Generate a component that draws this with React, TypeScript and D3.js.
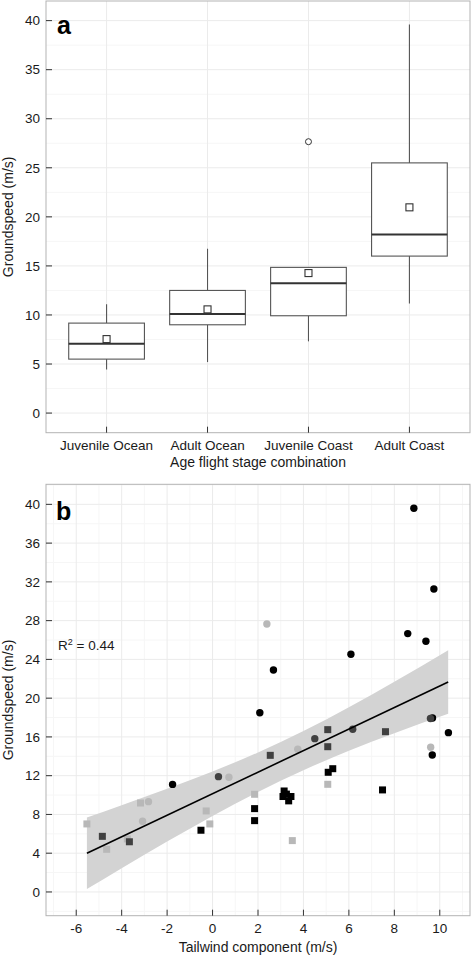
import React from "react";
import * as d3 from "d3";

// ---------- Panel a data (box plots) ----------
const categories = ["Juvenile Ocean", "Adult Ocean", "Juvenile Coast", "Adult Coast"];
const whiskerLow = [4.45, 5.2, 7.31, 11.18];
const q1 = [5.5, 9.0, 9.92, 16.0];
const median = [7.06, 10.09, 13.22, 18.2];
const q3 = [9.17, 12.5, 14.85, 25.5];
const whiskerHigh = [11.08, 16.75, 14.85, 39.6];
const means = [7.54, 10.57, 14.27, 20.97];
const outliers: [number, number][] = [[2, 27.66]]; // [category index, value]
const yTicksA = [0, 5, 10, 15, 20, 25, 30, 35, 40];
const yMinorA = [2.5, 7.5, 12.5, 17.5, 22.5, 27.5, 32.5, 37.5];

// ---------- Panel b data (scatter) ----------
const blackCircles: [number, number][] = [
  [8.86, 39.6], [9.74, 31.27], [8.59, 26.66], [9.39, 25.87], [6.09, 24.53],
  [2.68, 22.91], [2.08, 18.5], [9.68, 17.95], [10.38, 16.44], [9.67, 14.14], [-1.76, 11.1],
];
const lightCircles: [number, number][] = [
  [2.39, 27.66], [9.6, 14.93], [3.75, 14.72], [0.72, 11.84], [-2.82, 9.32], [-3.08, 7.3],
];
const darkCircles: [number, number][] = [
  [9.59, 17.9], [6.17, 16.79], [4.5, 15.82], [0.26, 11.9],
];
const blackSquares: [number, number][] = [
  [5.09, 12.35], [5.29, 12.72], [7.48, 10.53], [3.15, 10.42], [3.25, 10.1], [3.1, 9.85],
  [3.45, 9.85], [3.35, 9.4], [1.85, 8.6], [1.85, 7.36], [-0.51, 6.37],
];
const lightSquares: [number, number][] = [
  [5.07, 11.11], [1.85, 10.08], [-0.28, 8.36], [-0.12, 7.02], [3.51, 5.3],
  [-3.17, 9.18], [-5.53, 7.02], [-4.66, 4.4], [-3.75, 5.47],
];
const darkSquares: [number, number][] = [
  [7.61, 16.54], [5.07, 16.75], [5.07, 14.99], [2.54, 14.1], [-4.85, 5.74], [-3.66, 5.18],
];
// fitted line end points and confidence band
const fitLine: [number, number][] = [[-5.53, 4.0], [10.37, 21.66]];
const bandX = [-5.53, -4, -2, 0, 2, 4, 6, 8, 10.37];
const bandLow = [0.3, 2.45, 5.2, 7.85, 10.32, 12.56, 14.56, 16.37, 18.38];
const bandHigh = [7.69, 8.95, 10.64, 12.43, 14.4, 16.6, 19.06, 21.69, 24.94];
const xTicksB = [-6, -4, -2, 0, 2, 4, 6, 8, 10];
const xMinorB = [-7, -5, -3, -1, 1, 3, 5, 7, 9, 11];
const yTicksB = [0, 4, 8, 12, 16, 20, 24, 28, 32, 36, 40];
const yMinorB = [-2, 2, 6, 10, 14, 18, 22, 26, 30, 34, 38, 42];

const FONT = "'Liberation Sans', Arial, Helvetica, sans-serif";
const GRID_MAJOR = "#ebebeb";
const GRID_MINOR = "#f6f6f6";
const BORDER = "#b3b3b3";
const TICK = "#333333";
const TXT = "#1a1a1a";

const L = 46, R = 470;

function PanelA() {
  const top = 1, bottom = 432.7;
  const x = d3.scalePoint<string>().domain(categories).range([L, R]).padding(0.6);
  const y = d3.scaleLinear().domain([-2, 42]).range([bottom, top]);
  const step = x.step();
  const bw = step * 0.75;
  return (
    <g>
      <rect x={L} y={top} width={R - L} height={bottom - top} fill="#fff" />
      {yMinorA.map((v) => (
        <line key={"mn" + v} x1={L} x2={R} y1={y(v)} y2={y(v)} stroke={GRID_MINOR} strokeWidth={1} />
      ))}
      {yTicksA.map((v) => (
        <line key={"mj" + v} x1={L} x2={R} y1={y(v)} y2={y(v)} stroke={GRID_MAJOR} strokeWidth={1} />
      ))}
      {categories.map((c) => (
        <line key={"vg" + c} x1={x(c)} x2={x(c)} y1={top} y2={bottom} stroke={GRID_MAJOR} strokeWidth={1} />
      ))}
      {categories.map((c, i) => {
        const cx = x(c) as number;
        return (
          <g key={"box" + c}>
            <line x1={cx} x2={cx} y1={y(whiskerHigh[i])} y2={y(q3[i])} stroke="#555" strokeWidth={1.1} />
            <line x1={cx} x2={cx} y1={y(q1[i])} y2={y(whiskerLow[i])} stroke="#555" strokeWidth={1.1} />
            <rect x={cx - bw / 2} y={y(q3[i])} width={bw} height={y(q1[i]) - y(q3[i])}
              fill="#fff" stroke="#555" strokeWidth={1.1} />
            <line x1={cx - bw / 2} x2={cx + bw / 2} y1={y(median[i])} y2={y(median[i])} stroke="#333" strokeWidth={2} />
            <rect x={cx - 3.5} y={y(means[i]) - 3.5} width={7} height={7} fill="#fff" stroke="#333" strokeWidth={1.1} />
          </g>
        );
      })}
      {outliers.map(([ci, v], k) => (
        <circle key={"o" + k} cx={x(categories[ci])} cy={y(v)} r={3} fill="#fff" stroke="#333" strokeWidth={1} />
      ))}
      <rect x={L} y={top} width={R - L} height={bottom - top} fill="none" stroke={BORDER} strokeWidth={1} />
      {yTicksA.map((v) => (
        <g key={"yt" + v}>
          <line x1={L} x2={L + 6} y1={y(v)} y2={y(v)} stroke={TICK} strokeWidth={1} />
          <text x={40} y={y(v)} dy="0.35em" textAnchor="end" fontSize={13.5} fill={TXT} fontFamily={FONT}>{v}</text>
        </g>
      ))}
      {categories.map((c) => (
        <g key={"xt" + c}>
          <line x1={x(c)} x2={x(c)} y1={bottom} y2={bottom - 6} stroke={TICK} strokeWidth={1} />
          <text x={x(c)} y={bottom + 17.3} textAnchor="middle" fontSize={13.5} fill={TXT} fontFamily={FONT}>{c}</text>
        </g>
      ))}
      <text x={(L + R) / 2} y={467} textAnchor="middle" fontSize={14} fill={TXT} fontFamily={FONT}>Age flight stage combination</text>
      <text transform={`translate(13,${(top + bottom) / 2}) rotate(-90)`} textAnchor="middle" fontSize={14} fill={TXT} fontFamily={FONT}>Groundspeed (m/s)</text>
      <text x={57} y={34} fontSize={25} fontWeight="bold" fill="#000" fontFamily={FONT}>a</text>
    </g>
  );
}

function PanelB() {
  const top = 484.3, bottom = 915.7;
  const x = d3.scaleLinear().domain([-7.33, 11.33]).range([L, R]);
  const y = d3.scaleLinear().domain([-2.45, 42.07]).range([bottom, top]);
  const bandData = bandX.map((v, i) => ({ x: v, lo: bandLow[i], hi: bandHigh[i] }));
  const area = d3.area<{ x: number; lo: number; hi: number }>()
    .x((d) => x(d.x)).y0((d) => y(d.lo)).y1((d) => y(d.hi)).curve(d3.curveMonotoneX);
  const line = d3.line<[number, number]>().x((d) => x(d[0])).y((d) => y(d[1]));
  const BLACK = "#000000", DARK = "#404040", LIGHT = "#b8b8b8";
  const s = 7;
  const sq = (pts: [number, number][], col: string, key: string) =>
    pts.map((p, i) => <rect key={key + i} x={x(p[0]) - s / 2} y={y(p[1]) - s / 2} width={s} height={s} fill={col} />);
  const ci = (pts: [number, number][], col: string, key: string) =>
    pts.map((p, i) => <circle key={key + i} cx={x(p[0])} cy={y(p[1])} r={3.7} fill={col} />);
  return (
    <g>
      <rect x={L} y={top} width={R - L} height={bottom - top} fill="#fff" />
      {yMinorB.map((v) => (
        <line key={"ymn" + v} x1={L} x2={R} y1={y(v)} y2={y(v)} stroke={GRID_MINOR} strokeWidth={1} />
      ))}
      {xMinorB.map((v) => (
        <line key={"xmn" + v} x1={x(v)} x2={x(v)} y1={top} y2={bottom} stroke={GRID_MINOR} strokeWidth={1} />
      ))}
      {yTicksB.map((v) => (
        <line key={"ymj" + v} x1={L} x2={R} y1={y(v)} y2={y(v)} stroke={GRID_MAJOR} strokeWidth={1} />
      ))}
      {xTicksB.map((v) => (
        <line key={"xmj" + v} x1={x(v)} x2={x(v)} y1={top} y2={bottom} stroke={GRID_MAJOR} strokeWidth={1} />
      ))}
      <path d={area(bandData) || ""} fill="#d3d3d3" />
      {ci(blackCircles, BLACK, "bc")}
      {sq(blackSquares, BLACK, "bs")}
      {ci(lightCircles, LIGHT, "lc")}
      {sq(lightSquares, LIGHT, "ls")}
      {ci(darkCircles, DARK, "dc")}
      {sq(darkSquares, DARK, "ds")}
      <path d={line(fitLine) || ""} stroke="#000" strokeWidth={1.6} fill="none" />
      <rect x={L} y={top} width={R - L} height={bottom - top} fill="none" stroke={BORDER} strokeWidth={1} />
      {yTicksB.map((v) => (
        <g key={"yt" + v}>
          <line x1={L} x2={L + 6} y1={y(v)} y2={y(v)} stroke={TICK} strokeWidth={1} />
          <text x={40} y={y(v)} dy="0.35em" textAnchor="end" fontSize={13.5} fill={TXT} fontFamily={FONT}>{v}</text>
        </g>
      ))}
      {xTicksB.map((v) => (
        <g key={"xt" + v}>
          <line x1={x(v)} x2={x(v)} y1={bottom} y2={bottom - 6} stroke={TICK} strokeWidth={1} />
          <text x={x(v)} y={bottom + 17.3} textAnchor="middle" fontSize={13.5} fill={TXT} fontFamily={FONT}>{v}</text>
        </g>
      ))}
      <text x={(L + R) / 2} y={952} textAnchor="middle" fontSize={14} fill={TXT} fontFamily={FONT}>Tailwind component (m/s)</text>
      <text transform={`translate(13,${(top + bottom) / 2}) rotate(-90)`} textAnchor="middle" fontSize={14} fill={TXT} fontFamily={FONT}>Groundspeed (m/s)</text>
      <text x={56} y={520} fontSize={25} fontWeight="bold" fill="#000" fontFamily={FONT}>b</text>
      <text x={58} y={650} fontSize={13.5} fill={TXT} fontFamily={FONT}>
        R<tspan dy={-5} fontSize={9}>2</tspan><tspan dy={5}> = 0.44</tspan>
      </text>
    </g>
  );
}

export default function App() {
  return (
    <div style={{ position: "absolute", left: 0, top: 0 }}>
      <svg width={472} height={957} style={{ display: "block", background: "#fff" }}>
        <rect x={0} y={0} width={472} height={957} fill="#fff" />
        <PanelA />
        <PanelB />
      </svg>
    </div>
  );
}
